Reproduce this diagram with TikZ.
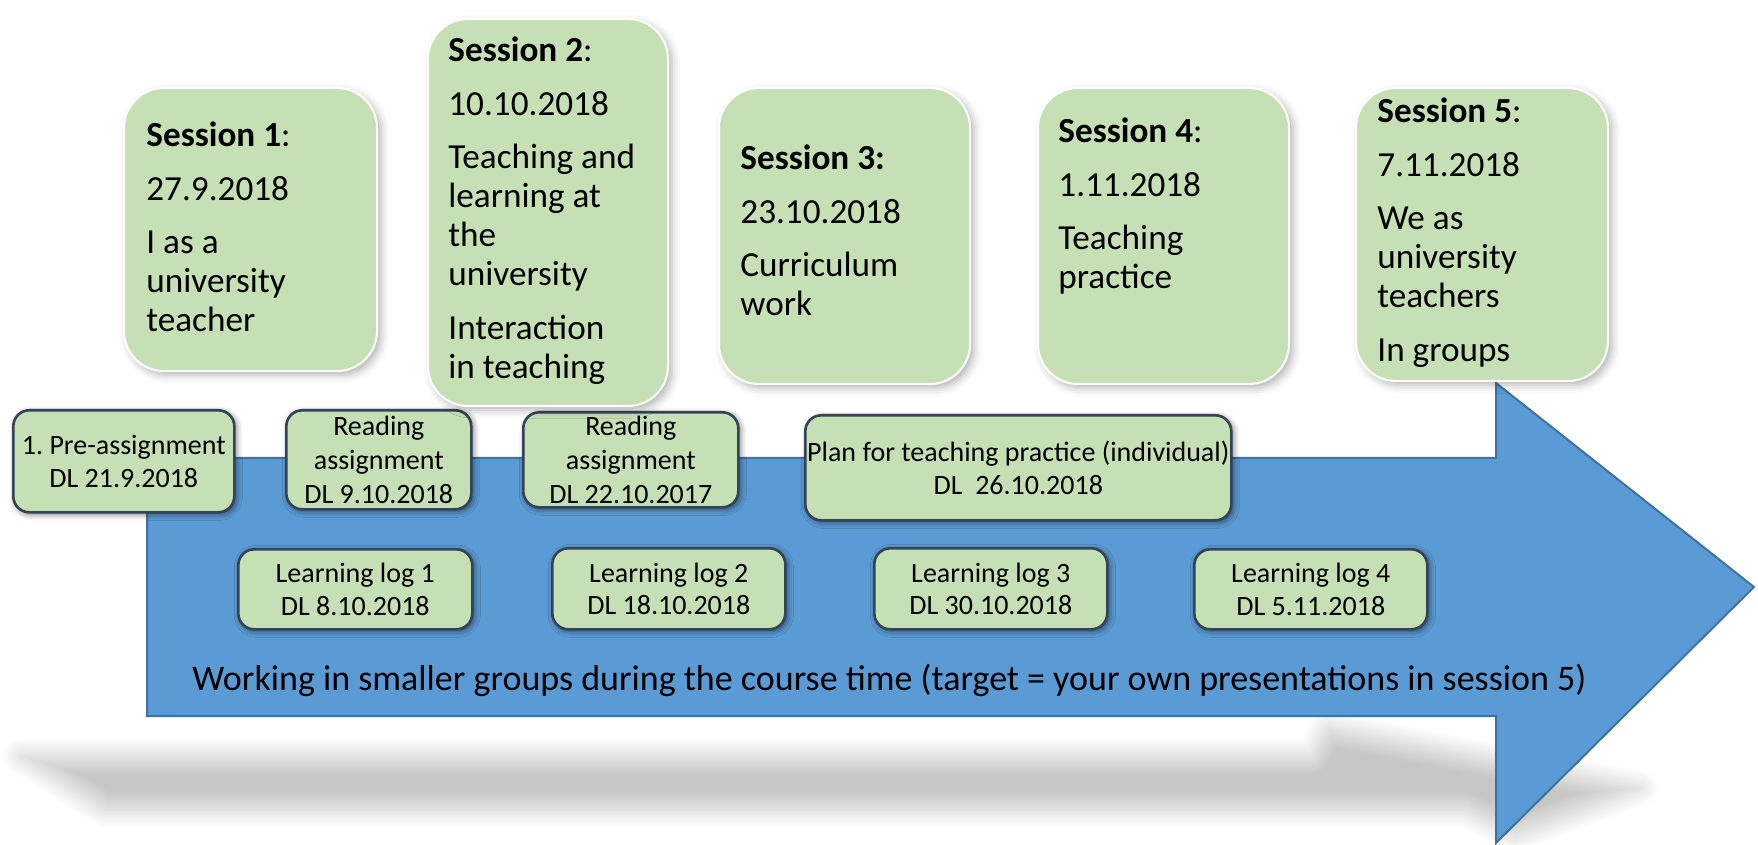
\documentclass[tikz,border=0pt]{standalone}
\usepackage{fontspec}
\setmainfont{Carlito}
\usetikzlibrary{shadows.blur}
\definecolor{boxgreen}{HTML}{C5E0B4}
\definecolor{arrowblue}{HTML}{5B9BD5}
\definecolor{arrowedge}{HTML}{41719C}
\definecolor{boxedge}{HTML}{344356}
\frenchspacing

\begin{document}
\begin{tikzpicture}[x=0.5pt, y=-0.5pt,
  sessionbox/.style={rounded corners=20pt, fill=boxgreen, draw=white, line width=1pt,
    blur shadow={shadow xshift=2pt, shadow yshift=-2pt, shadow blur radius=4pt, shadow opacity=30},
    inner sep=0pt, anchor=north west},
  sessiontext/.style={inner sep=0pt, anchor=base west, font=\fontsize{17.6}{19.5}\selectfont},
  taskbox/.style={rounded corners=8pt, fill=boxgreen, draw=boxedge, line width=1.3pt,
    blur shadow={shadow xshift=1pt, shadow yshift=-1pt, shadow blur radius=3pt, shadow opacity=55},
    inner sep=0pt, anchor=north west, align=center, font=\fontsize{14}{16.3}\selectfont},
  readbox/.style={taskbox, font=\fontsize{14}{17}\selectfont}
]
\useasboundingbox (0,0) rectangle (1758,845);

% soft floor shadow under the arrow
\coordinate (sh1) at (20,756);
\coordinate (sh2) at (1312,756);
\coordinate (sh3) at (1328,728);
\coordinate (sh4) at (1640,788);
\coordinate (sh5) at (1515,835);
\coordinate (sh6) at (1465,810);
\coordinate (sh7) at (105,810);
\path[blur shadow={shadow xshift=0pt, shadow yshift=0pt, shadow blur radius=9pt,
    shadow blur steps=20, shadow opacity=22}]
  (sh1) -- (sh2) -- (sh3) -- (sh4) -- (sh5) -- (sh6) -- (sh7) -- cycle;

% the big timeline arrow
\coordinate (a1) at (147,458);
\coordinate (a2) at (1496,458);
\coordinate (a3) at (1496,383);
\coordinate (a4) at (1754,587);
\coordinate (a5) at (1496,843);
\coordinate (a6) at (1496,716);
\coordinate (a7) at (147,716);
\draw[fill=arrowblue, draw=arrowedge, line width=1pt, line join=miter]
  (a1) -- (a2) -- (a3) -- (a4) -- (a5) -- (a6) -- (a7) -- cycle;

\node[inner sep=0pt, anchor=base west, font=\fontsize{18}{20}\selectfont] (course) at (192,690)
  {Working in smaller groups during the course time (target = your own presentations in session 5)};

% assignments and deadlines
\node[taskbox, minimum width=110.5pt, minimum height=51pt] (pre) at (12,409)
  {1. Pre-assignment\\DL 21.9.2018};
\node[readbox, minimum width=92.5pt, minimum height=49.5pt] (read1) at (285,409)
  {Reading\\assignment\\DL 9.10.2018};
\node[readbox, minimum width=107.5pt, minimum height=47.5pt] (read2) at (522,411)
  {Reading\\assignment\\DL 22.10.2017};
\node[taskbox, minimum width=213pt, minimum height=52.5pt] (plan) at (804,414)
  {Plan for teaching practice (individual)\\DL~~26.10.2018};
\node[taskbox, minimum width=117pt, minimum height=40pt] (log1) at (237,548)
  {Learning log 1\\DL 8.10.2018};
\node[taskbox, minimum width=116.5pt, minimum height=40.5pt] (log2) at (551,547)
  {Learning log 2\\DL 18.10.2018};
\node[taskbox, minimum width=116.5pt, minimum height=40.5pt] (log3) at (873,547)
  {Learning log 3\\DL 30.10.2018};
\node[taskbox, minimum width=116.5pt, minimum height=40pt] (log4) at (1193,548)
  {Learning log 4\\DL 5.11.2018};

% contact sessions
\node[sessionbox, minimum width=126.5pt, minimum height=141.5pt] (s1) at (123,87) {};
\node[sessionbox, minimum width=120pt, minimum height=193.5pt] (s2) at (427,18) {};
\node[sessionbox, minimum width=125.5pt, minimum height=148pt] (s3) at (718,87) {};
\node[sessionbox, minimum width=125.5pt, minimum height=148pt] (s4) at (1037,87) {};
\node[sessionbox, minimum width=126pt, minimum height=146.5pt] (s5) at (1355,87) {};

\node[sessiontext] (s1t) at (146,147) {\parbox[t]{110pt}{\raggedright
  \textbf{Session 1}:\\[7.25pt]27.9.2018\\[7.25pt]I as a\\university\\teacher}};
\node[sessiontext] (s2t) at (448,62) {\parbox[t]{110pt}{\raggedright
  \textbf{Session 2}:\\[7.25pt]10.10.2018\\[7.25pt]Teaching and\\learning at\\the\\university\\[7.25pt]Interaction\\in teaching}};
\node[sessiontext] (s3t) at (740,170) {\parbox[t]{110pt}{\raggedright
  \textbf{Session 3:}\\[7.25pt]23.10.2018\\[7.25pt]Curriculum\\work}};
\node[sessiontext] (s4t) at (1058,143) {\parbox[t]{110pt}{\raggedright
  \textbf{Session 4}:\\[7.25pt]1.11.2018\\[7.25pt]Teaching\\practice}};
\node[sessiontext] (s5t) at (1377,123) {\parbox[t]{110pt}{\raggedright
  \textbf{Session 5}:\\[7.25pt]7.11.2018\\[7.25pt]We as\\university\\teachers\\[7.25pt]In groups}};
\end{tikzpicture}
\end{document}
